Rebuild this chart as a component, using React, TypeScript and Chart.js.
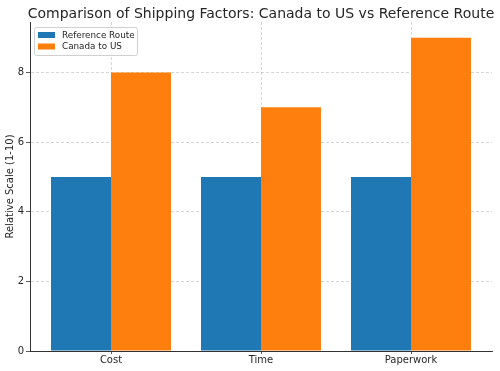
import React, { useEffect, useRef } from "react";
import { Chart, registerables } from "chart.js";

Chart.register(...registerables);

const TITLE = "Comparison of Shipping Factors: Canada to US vs Reference Route";
const Y_LABEL = "Relative Scale (1-10)";
const categories = ["Cost", "Time", "Paperwork"];
const referenceRoute = [5, 5, 5];
const canadaToUS = [8, 7, 9];
const seriesNames = ["Reference Route", "Canada to US"];
const seriesColors = ["#1f77b4", "#ff7f0e"];
const yTicks = [0, 2, 4, 6, 8];

const FONT = "'DejaVu Sans', sans-serif";

const titlePlugin = {
  id: "mplTitle",
  afterDraw(chart: any) {
    const { ctx, chartArea } = chart;
    ctx.save();
    ctx.font = `14px ${FONT}`;
    ctx.fillStyle = "#262626";
    ctx.textAlign = "center";
    ctx.textBaseline = "alphabetic";
    ctx.fillText(TITLE, (chartArea.left + chartArea.right) / 2, 17.5);
    ctx.restore();
  },
};

const legendPlugin = {
  id: "mplLegend",
  afterDatasetsDraw(chart: any) {
    const { ctx, chartArea } = chart;
    const x0 = chartArea.left + 4;
    const y0 = chartArea.top + 5;
    const w = 103;
    const h = 28;
    ctx.save();
    ctx.fillStyle = "rgba(255,255,255,0.8)";
    ctx.strokeStyle = "#d0d0d0";
    ctx.lineWidth = 1;
    ctx.beginPath();
    (ctx as any).roundRect(x0 + 0.5, y0 + 0.5, w, h, 2);
    ctx.fill();
    ctx.stroke();
    ctx.font = `8.8px ${FONT}`;
    ctx.textBaseline = "middle";
    ctx.textAlign = "left";
    chart.data.datasets.forEach((ds: any, i: number) => {
      const cy = y0 + 8 + i * 11.5;
      ctx.fillStyle = ds.backgroundColor;
      ctx.fillRect(x0 + 4, cy - 3, 17, 6);
      ctx.fillStyle = "#262626";
      ctx.fillText(ds.label, x0 + 28, cy + 0.5);
    });
    ctx.restore();
  },
};

export default function App() {
  const ref = useRef<HTMLCanvasElement>(null);
  useEffect(() => {
    document.body.style.margin = "0";
    Chart.defaults.font.family = FONT;
    const chart = new Chart(ref.current!, {
      type: "bar",
      data: {
        labels: categories,
        datasets: [
          {
            label: seriesNames[0],
            data: referenceRoute,
            backgroundColor: seriesColors[0],
            categoryPercentage: 0.8,
            barPercentage: 1.0,
          },
          {
            label: seriesNames[1],
            data: canadaToUS,
            backgroundColor: seriesColors[1],
            categoryPercentage: 0.8,
            barPercentage: 1.0,
          },
        ],
      },
      options: {
        responsive: false,
        animation: false,
        layout: { padding: { top: 22, right: 8, left: 0, bottom: 0 } },
        plugins: {
          legend: { display: false },
          title: { display: false },
          tooltip: { enabled: false },
        },
        scales: {
          x: {
            offset: false,
            afterBuildTicks: (s: any) => {
              // matplotlib-style 5% margins around bars spanning [-0.4, 2.4]
              s._startValue = -0.54;
              s._valueRange = 3.08;
            },
            afterFit: (s: any) => {
              s.height = 20;
            },
            ticks: {
              autoSkip: false,
              maxRotation: 0,
              padding: 0,
              color: "#262626",
              font: { size: 10, family: FONT },
            },
            grid: {
              offset: false,
              color: "rgba(0,0,0,0.2)",
              lineWidth: 0.8,
              tickLength: 3,
              tickColor: "#333",
              tickBorderDash: [],
            },
            border: { display: true, color: "#333", width: 1, dash: [3, 2] },
          },
          y: {
            min: 0,
            max: 9.45,
            afterFit: (s: any) => {
              s.width = 30;
            },
            afterBuildTicks: (s: any) => {
              s.ticks = yTicks.map((v) => ({ value: v }));
            },
            ticks: {
              stepSize: 2,
              includeBounds: false,
              padding: 2,
              color: "#262626",
              font: { size: 10, family: FONT },
            },
            title: {
              display: true,
              text: Y_LABEL,
              color: "#262626",
              font: { size: 10, family: FONT },
              padding: { top: 4, bottom: 0 },
            },
            grid: {
              color: "rgba(0,0,0,0.2)",
              lineWidth: 0.8,
              tickLength: 4,
              tickColor: "#333",
              tickBorderDash: [],
            },
            border: { display: true, color: "#333", width: 1, dash: [3, 2] },
          },
        },
      },
      plugins: [titlePlugin, legendPlugin],
    } as any);
    return () => chart.destroy();
  }, []);
  return (
    <div style={{ width: 500, height: 371 }}>
      <canvas ref={ref} width={500} height={371} style={{ display: "block" }} />
    </div>
  );
}
